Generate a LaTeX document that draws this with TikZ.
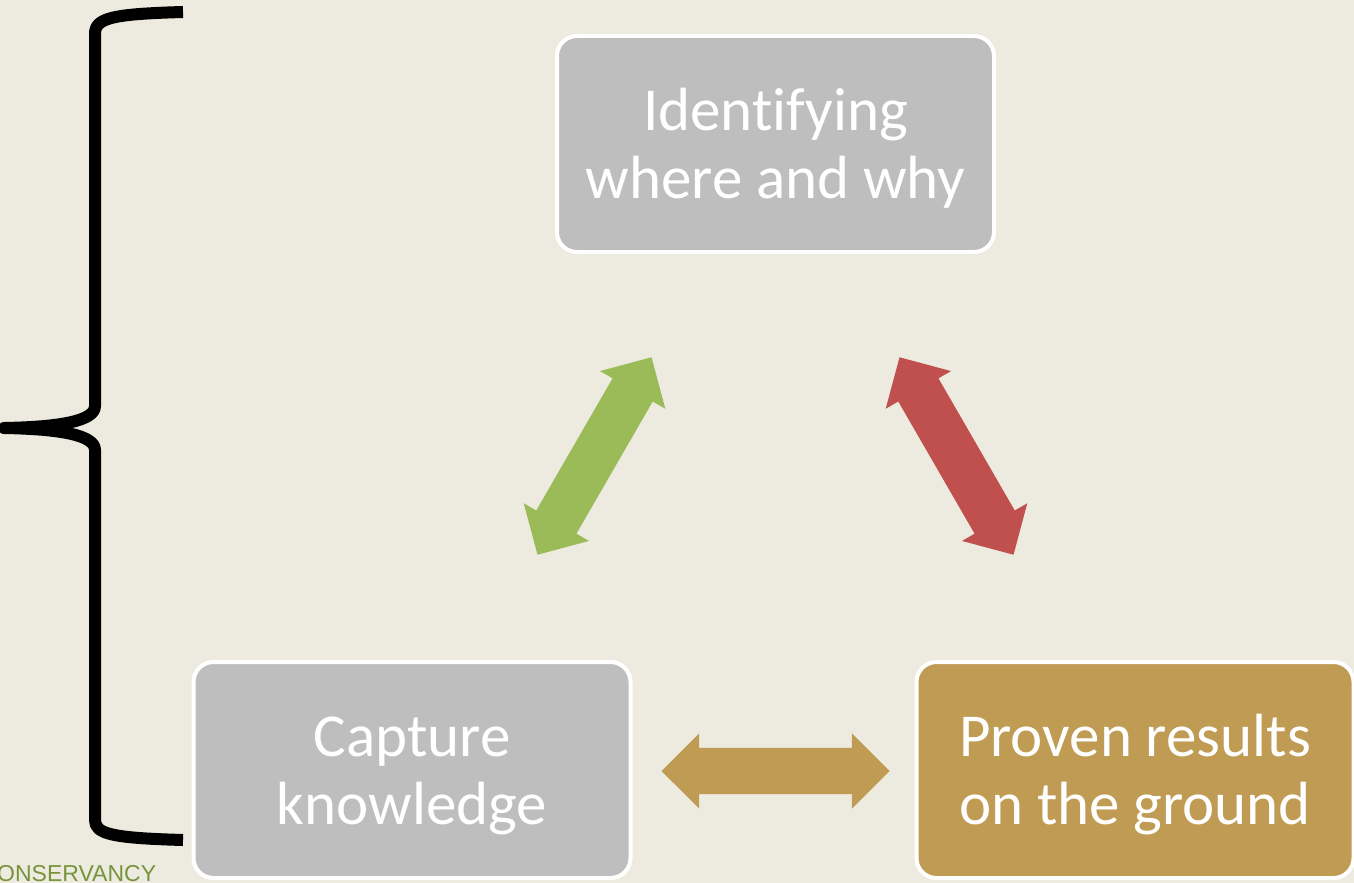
\documentclass[tikz,border=0pt]{standalone}
\usepackage{fontspec}
\setmainfont{Carlito}[Ligatures=NoCommon]
\newfontfamily\logofont{Liberation Sans}
\usetikzlibrary{shapes.arrows}
\definecolor{bg}{RGB}{237,235,224}
\definecolor{boxgray}{RGB}{190,190,190}
\definecolor{boxgold}{RGB}{191,155,83}
\definecolor{arrgreen}{RGB}{155,187,89}
\definecolor{arrred}{RGB}{192,80,77}
\definecolor{logogreen}{RGB}{119,147,60}
\newcommand\topstrut{\rule{0pt}{51pt}}
\tikzset{
  stepbox/.style={rectangle, rounded corners=20pt, draw=white, line width=4pt,
    minimum width=437pt, minimum height=216pt, text=white, align=center,
    inner sep=0pt, font=\fontsize{61}{68}\selectfont},
  dblarr/.style={double arrow, double arrow tip angle=90, double arrow head extend=14.5pt,
    minimum width=75pt, minimum height=228pt, inner xsep=0pt, inner ysep=23pt, draw=none},
}
\begin{document}
\begin{tikzpicture}[x=1pt,y=-1pt]
\useasboundingbox (0,0) rectangle (1354,883);
\clip (0,0) rectangle (1354,883);
\fill[bg] (0,0) rectangle (1354,883);
% brace
\draw[line width=12pt, line join=round, line cap=butt]
  (183,12) .. controls (112,14) and (95,18) .. (95,34) -- (95,406)
  .. controls (95,421) and (60,427) .. (4,428)
  .. controls (60,429) and (95,435) .. (95,450) -- (95,820)
  .. controls (95,834) and (112,838) .. (183,840);
% boxes
\node[stepbox, fill=boxgray] (top) at (775.5,144) {\topstrut Identifying\\where and why};
\node[stepbox, fill=boxgray] (left) at (412,770) {\topstrut Capture\\knowledge};
\node[stepbox, fill=boxgold] (right) at (1135,770) {\topstrut Proven results\\on the ground};
% arrows
\node[dblarr, fill=arrgreen, rotate=60] (ga) at (594.5,456) {};
\node[dblarr, fill=arrred, rotate=-60] (ra) at (956.5,456) {};
\node[dblarr, fill=boxgold] (ha) at (775.5,771) {};
% logo text
\node[anchor=base west, inner sep=0pt, text=logogreen, font=\logofont\fontsize{23}{24}\selectfont] (logo) at (-3,881) {ONSERVANCY};
\end{tikzpicture}
\end{document}
